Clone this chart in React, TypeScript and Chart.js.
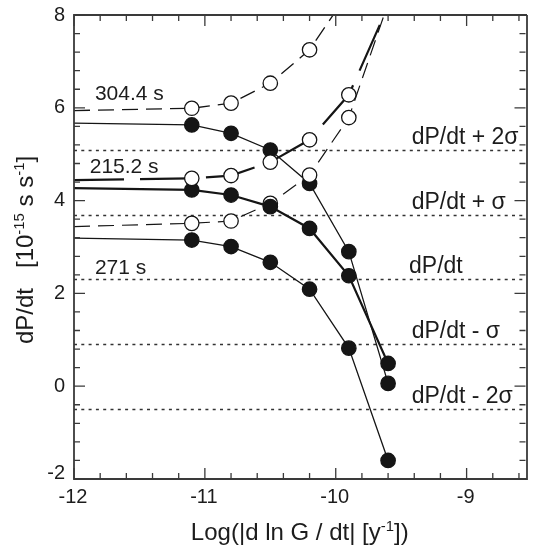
import React, { useEffect, useRef } from "react";
import { Chart, registerables } from "chart.js";

Chart.register(...registerables);

// ---- data ----
const xValues = [-12, -11.1, -10.8, -10.5, -10.2, -9.9, -9.6];
const open304 = [5.94, 5.99, 6.1, 6.53, 7.25, 8.5];
const filled304 = [5.67, 5.63, 5.45, 5.09, 4.37, 2.9, 0.06];
const open215 = [4.44, 4.48, 4.54, 4.83, 5.31, 6.28, 8.19];
const filled215 = [4.27, 4.23, 4.12, 3.87, 3.4, 2.38, 0.49];
const open271 = [3.44, 3.51, 3.56, 3.94, 4.55, 5.79, 8.25];
const filled271 = [3.19, 3.15, 3.01, 2.67, 2.09, 0.82, -1.6];
const sigmaLevels = [5.1, 3.7, 2.3, 0.9, -0.5];
const sigmaLabels = ["dP/dt + 2σ", "dP/dt + σ", "dP/dt", "dP/dt - σ", "dP/dt - 2σ"];
const periodLabels = ["304.4 s", "215.2 s", "271 s"];
const xTickLabels = [-12, -11, -10, -9];
const yTickLabels = [-2, 0, 2, 4, 6, 8];

const FONT = '"Liberation Sans", Arial, Helvetica, sans-serif';
const INK = "#1c1c1c";

type Part = { t: string; sup?: boolean };

function drawRich(ctx: CanvasRenderingContext2D, parts: Part[], x: number, y: number, size: number, center: boolean) {
  const widths = parts.map((p) => {
    ctx.font = `${p.sup ? size * 0.62 : size}px ${FONT}`;
    return ctx.measureText(p.t).width;
  });
  const total = widths.reduce((s, w) => s + w, 0);
  let cx = center ? x - total / 2 : x;
  ctx.textAlign = "left";
  ctx.textBaseline = "alphabetic";
  parts.forEach((p, i) => {
    ctx.font = `${p.sup ? size * 0.62 : size}px ${FONT}`;
    ctx.fillText(p.t, cx, p.sup ? y - size * 0.38 : y);
    cx += widths[i];
  });
}

const toPts = (vals: number[]) => vals.map((v, i) => ({ x: xValues[i], y: v }));
const radii = (vals: number[], hiddenLast: boolean) =>
  vals.map((_, i) => (i === 0 || (hiddenLast && i === vals.length - 1) ? 0 : 7.2));

const decor = {
  id: "decor",
  beforeDatasetsDraw(chart: any) {
    const { ctx, chartArea: a, scales } = chart;
    const y = scales.y;
    ctx.save();
    ctx.strokeStyle = "#333";
    ctx.lineWidth = 1.4;
    ctx.setLineDash([3, 4.3]);
    sigmaLevels.forEach((v) => {
      const py = Math.round(y.getPixelForValue(v)) + 0.5;
      ctx.beginPath();
      ctx.moveTo(a.left, py);
      ctx.lineTo(a.right, py);
      ctx.stroke();
    });
    ctx.restore();
  },
  afterDatasetsDraw(chart: any) {
    const { ctx, chartArea: a, scales } = chart;
    const x = scales.x;
    const y = scales.y;
    ctx.save();
    // frame
    ctx.strokeStyle = "#3a3a3a";
    ctx.lineWidth = 1.8;
    ctx.setLineDash([]);
    ctx.beginPath();
    ctx.moveTo(a.right + 1.5, a.top);
    ctx.lineTo(a.left, a.top);
    ctx.lineTo(a.left, a.bottom);
    ctx.lineTo(a.right + 1.5, a.bottom);
    ctx.lineTo(a.right + 1.5, a.top);
    ctx.stroke();
    // ticks
    ctx.lineWidth = 1.3;
    for (let i = 0; ; i++) {
      const v = -12 + i * 0.2;
      if (v > x.max + 1e-6) break;
      const major = Math.abs(v - Math.round(v)) < 1e-6;
      const len = major ? 11 : 6;
      const px = x.getPixelForValue(v);
      ctx.beginPath();
      ctx.moveTo(px, a.bottom);
      ctx.lineTo(px, a.bottom - len);
      ctx.moveTo(px, a.top);
      ctx.lineTo(px, a.top + len);
      ctx.stroke();
    }
    for (let i = 0; ; i++) {
      const v = -2 + i * 0.4;
      if (v > 8 + 1e-6) break;
      const major = Math.abs(v / 2 - Math.round(v / 2)) < 1e-6;
      const len = major ? 11 : 6;
      const py = y.getPixelForValue(v);
      ctx.beginPath();
      ctx.moveTo(a.left, py);
      ctx.lineTo(a.left + len, py);
      ctx.moveTo(a.right, py);
      ctx.lineTo(a.right - len, py);
      ctx.stroke();
    }
    // tick labels
    ctx.fillStyle = INK;
    ctx.font = `20px ${FONT}`;
    ctx.textAlign = "center";
    ctx.textBaseline = "middle";
    xTickLabels.forEach((v) => {
      ctx.fillText(String(v), x.getPixelForValue(v) - 1, a.bottom + 18);
    });
    ctx.textAlign = "right";
    yTickLabels.forEach((v) => {
      const off = v === -2 ? -6 : 0;
      ctx.fillText(String(v), a.left - 9, y.getPixelForValue(v) + off);
    });
    // sigma labels
    ctx.font = `23px ${FONT}`;
    ctx.textAlign = "left";
    ctx.textBaseline = "alphabetic";
    sigmaLabels.forEach((s, i) => {
      const lx = i === 2 ? x.getPixelForValue(-9.44) : x.getPixelForValue(-9.42);
      ctx.fillText(s, lx, y.getPixelForValue(sigmaLevels[i]) - 6);
    });
    // period labels
    ctx.font = `21px ${FONT}`;
    const pxs = [-11.84, -11.88, -11.84];
    const pys = [6.17, 4.6, 2.42];
    periodLabels.forEach((s, i) => {
      ctx.fillText(s, x.getPixelForValue(pxs[i]), y.getPixelForValue(pys[i]));
    });
    // axis titles
    drawRich(
      ctx,
      [{ t: "Log(|d ln G / dt| [y" }, { t: "-1", sup: true }, { t: "])" }],
      (a.left + a.right) / 2,
      a.bottom + 61,
      24,
      true
    );
    ctx.translate(33, 250);
    ctx.rotate(-Math.PI / 2);
    drawRich(
      ctx,
      [{ t: "dP/dt   [10" }, { t: "-15", sup: true }, { t: " s s" }, { t: "-1", sup: true }, { t: "]" }],
      0,
      0,
      24,
      true
    );
    ctx.restore();
  },
};

export default function App() {
  const ref = useRef<HTMLCanvasElement>(null);
  useEffect(() => {
    const black = "#151515";
    const openDs = (label: string, vals: number[], dash: number[], bw: number, order: number) => ({
      label,
      data: toPts(vals),
      borderColor: black,
      borderWidth: bw,
      borderDash: dash,
      pointRadius: radii(vals, true),
      pointBackgroundColor: "#ffffff",
      pointBorderColor: black,
      pointBorderWidth: 1.3,
      tension: 0,
      clip: 0,
      order,
    });
    const filledDs = (label: string, vals: number[], bw: number, order: number) => ({
      label,
      data: toPts(vals),
      borderColor: black,
      borderWidth: bw,
      pointRadius: radii(vals, false),
      pointBackgroundColor: black,
      pointBorderColor: black,
      pointBorderWidth: 1.3,
      tension: 0,
      clip: 0,
      order,
    });
    const chart = new Chart(ref.current as HTMLCanvasElement, {
      type: "line",
      data: {
        datasets: [
          filledDs("filled304", filled304, 1.3, 6),
          openDs("open304", open304, [16, 8], 1.3, 5),
          filledDs("filled271", filled271, 1.3, 4),
          openDs("open271", open271, [16, 8], 1.2, 3),
          filledDs("filled215", filled215, 2.2, 2),
          openDs("open215", open215, [50, 16], 2.2, 1),
        ] as any,
      },
      options: {
        responsive: false,
        animation: false,
        events: [],
        layout: { padding: { left: 74, top: 15, right: 0, bottom: 68 } },
        plugins: { legend: { display: false }, tooltip: { enabled: false } },
        scales: {
          x: { type: "linear", min: -12, max: -8.55, display: false },
          y: { type: "linear", min: -2, max: 8, display: false },
        },
      },
      plugins: [decor],
    });
    return () => chart.destroy();
  }, []);
  return (
    <div style={{ position: "fixed", left: 0, top: 0, width: 534, height: 547, background: "#fff" }}>
      <canvas ref={ref} width={534} height={547} style={{ display: "block", width: 534, height: 547 }} />
    </div>
  );
}
